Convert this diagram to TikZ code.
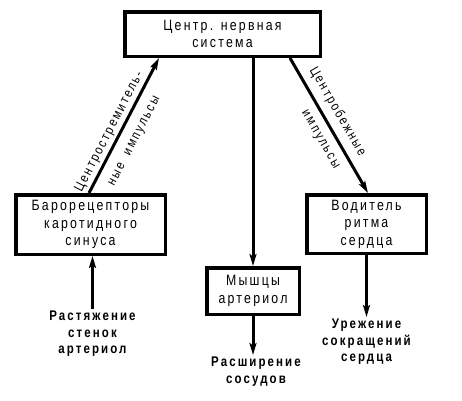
\documentclass[tikz,border=0pt]{standalone}
\usepackage{fontspec}
\setmainfont{Liberation Sans}
\newfontfamily\diagfont[FakeStretch=0.82, LetterSpace=15]{Liberation Sans}
\usetikzlibrary{calc, arrows.meta, positioning}

\begin{document}
\begin{tikzpicture} [x=1pt, y=-1pt, node distance=1.5cm,
		% define styles
		boxstyle/.style={
			% The shape:
			rectangle,
			% The border:
			draw=black,
			line width=3.5pt,
			inner sep=0pt,
			% Font
			font=\diagfont\fontsize{15}{17.5}\selectfont,
			align=center
		},
		resultstyle/.style={
			% no border, bold text
			inner sep=2pt,
			font=\diagfont\bfseries\fontsize{14}{16.5}\selectfont,
			align=center
		},
		slopedstyle/.style={
			sloped,
			inner sep=2pt,
			font=\diagfont\fontsize{13.5}{15}\selectfont
		},
		arrow/.style={
			-{Stealth[length=12pt, width=7pt, inset=2.5pt]},
			% Thickness
			line width=3pt,
			% Color
			black
		}]
		% end of style definition

		\useasboundingbox (0,0) rectangle (462,400);

		% draw nodes
		\node (iCns) [boxstyle, minimum width=195.5pt, minimum height=44.5pt] at (222.5,34) {Центр. нервная\\система};
		\node (iBaro) [boxstyle, minimum width=149.5pt, minimum height=59.5pt] at (90.5,224.5) {Барорецепторы\\каротидного\\синуса};
		\node (iPacer) [boxstyle, minimum width=119.5pt, minimum height=58.5pt] at (366.5,224) {Водитель\\ритма\\сердца};
		\node (iMuscle) [boxstyle, minimum width=92.5pt, minimum height=46.5pt] at (253,291) {Мышцы\\артериол};

		\node (iStretch) [resultstyle, below=53pt of iBaro, xshift=2pt] {Растяжение\\стенок\\артериол};
		\node (iDilate) [resultstyle, below=39pt of iMuscle, xshift=3pt] {Расширение\\сосудов};
		\node (iSlowing) [resultstyle, below=62pt of iPacer] {Урежение\\сокращений\\сердца};

		% connect nodes
		\draw [arrow] ([xshift=-1.5pt]iBaro.north) -- node[slopedstyle, above, pos=0.42, outer sep=2pt] {Центростремитель-} node[slopedstyle, below, pos=0.44, outer sep=10pt] {ные\hspace{5pt} импульсы} ([xshift=36pt]iCns.south west);
		\draw [arrow] ([xshift=-32pt]iCns.south east) -- node[slopedstyle, above, pos=0.45, outer sep=6pt] {Центробежные} node[slopedstyle, below, pos=0.55, outer sep=8pt] {импульсы} ([xshift=1.5pt]iPacer.north);
		\draw [arrow] (iCns.south -| iMuscle.north) -- (iMuscle.north);

		\draw [arrow] (iStretch.north) -- (iStretch.north |- iBaro.south);
		\draw [arrow] (iMuscle.south) -- (iDilate.north -| iMuscle.south);
		\draw [arrow] (iPacer.south) -- (iSlowing.north);
	\end{tikzpicture}
\end{document}
